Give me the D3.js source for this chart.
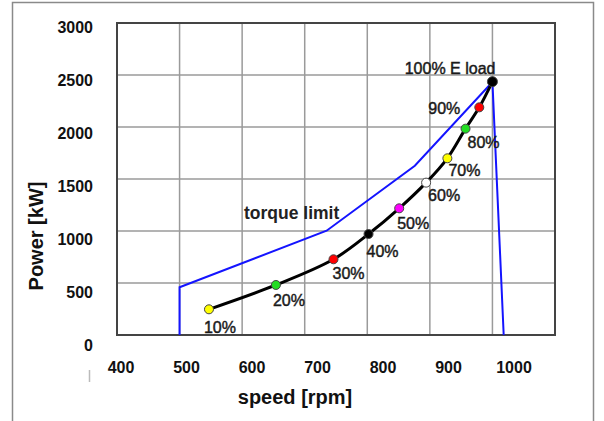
<!DOCTYPE html>
<html>
<head>
<meta charset="utf-8">
<script src="https://cdn.jsdelivr.net/npm/d3@7"></script>
<style>
  body { margin: 0; background: #fff; }
  svg { font-family: 'Liberation Sans', Arial, sans-serif; }
</style>
</head>
<body>
<div class="chart"></div>
<script>
// Data.
const loadLabels = ['10%', '20%', '30%', '40%', '50%', '60%', '70%', '80%', '90%', '100% E load'];
const loadSpeed = [547, 654, 746, 802, 851, 894, 928, 957, 979, 1000];
const loadPower = [247, 481, 728, 971, 1218, 1465, 1699, 1984, 2189, 2436];
const loadColors = ['#ffff00', '#22dd22', '#ff0000', '#000000', '#ff00ff',
                    '#ffffff', '#ffff00', '#22dd22', '#ff0000', '#000000'];

const limitSpeed = [500, 500, 735, 876, 1000, 1018];
const limitPower = [0, 459, 1003, 1628, 2433, 0];

const xTickLabels = [400, 500, 600, 700, 800, 900, 1000];
const yTickLabels = [0, 500, 1000, 1500, 2000, 2500, 3000];

// Label placement next to each load point (dx, dy, anchor).
const labelPlace = [
  [-5, 18, 'start'], [-3, 15, 'start'], [-1, 14, 'start'], [-2, 17, 'start'],
  [-2, 15, 'start'], [2, 13, 'start'], [1, 12, 'start'], [2, 14, 'start'],
  [-19, 1, 'end'], [3, -13, 'end']
];

// Layout.
const W = 604, H = 421;
const plot = { left: 117, right: 555, top: 23, bottom: 335 };

const svg = d3.select('.chart').append('svg')
  .attr('width', W).attr('height', H);

// Image frame.
svg.append('path')
  .attr('d', `M12.5,${H} V2.5 H593.5 V${H}`)
  .attr('fill', 'none')
  .attr('stroke', '#8a8a8a')
  .attr('stroke-width', 1.5);

// Scales.
const x = d3.scaleLinear().domain([400, 1100]).range([plot.left, plot.right]);
const y = d3.scaleLinear().domain([0, 3000]).range([plot.bottom, plot.top]);
// Tick labels in the picture sit slightly off the grid.
const xLab = d3.scaleLinear().domain([400, 1000]).range([121, 514]);
const yLab = d3.scaleLinear().domain([0, 3000]).range([345, 27]);

// Grid.
const grid = svg.append('g').attr('class', 'grid');
grid.selectAll('.vx')
  .data(d3.range(500, 1100, 100))
  .join('line')
  .attr('x1', d => x(d)).attr('x2', d => x(d))
  .attr('y1', plot.top).attr('y2', plot.bottom)
  .attr('stroke', '#9a9a9a').attr('stroke-width', 1.5);
grid.selectAll('.hy')
  .data(d3.range(500, 3000, 500))
  .join('line')
  .attr('y1', d => y(d)).attr('y2', d => y(d))
  .attr('x1', plot.left).attr('x2', plot.right)
  .attr('stroke', '#9a9a9a').attr('stroke-width', 1.5);

svg.append('rect')
  .attr('x', plot.left).attr('y', plot.top)
  .attr('width', plot.right - plot.left)
  .attr('height', plot.bottom - plot.top)
  .attr('fill', 'none')
  .attr('stroke', '#444')
  .attr('stroke-width', 2);

// Tick labels.
svg.append('g')
  .selectAll('text')
  .data(xTickLabels)
  .join('text')
  .attr('x', d => xLab(d))
  .attr('y', 367)
  .attr('dy', '0.35em')
  .attr('text-anchor', 'middle')
  .style('font-size', '16px')
  .style('font-weight', 'bold')
  .style('fill', '#111')
  .text(d => d);

svg.append('g')
  .selectAll('text')
  .data(yTickLabels)
  .join('text')
  .attr('x', 93)
  .attr('y', d => yLab(d))
  .attr('dy', '0.35em')
  .attr('text-anchor', 'end')
  .style('font-size', '16px')
  .style('font-weight', 'bold')
  .style('fill', '#111')
  .text(d => d);

// small stray mark left of the x labels
svg.append('line')
  .attr('x1', 89.5).attr('x2', 89.5).attr('y1', 370).attr('y2', 382)
  .attr('stroke', '#bbb').attr('stroke-width', 1.5);

// Axis titles.
svg.append('text')
  .attr('x', 295).attr('y', 397).attr('dy', '0.35em')
  .attr('text-anchor', 'middle')
  .style('font-size', '20px').style('font-weight', 'bold').style('fill', '#111')
  .text('speed [rpm]');

svg.append('text')
  .attr('transform', 'translate(36,236) rotate(-90)')
  .attr('dy', '0.35em')
  .attr('text-anchor', 'middle')
  .style('font-size', '20px').style('font-weight', 'bold').style('fill', '#111')
  .text('Power [kW]');

// Torque limit.
const limitData = limitSpeed.map((s, i) => [s, limitPower[i]]);
svg.append('path')
  .datum(limitData)
  .attr('d', d3.line().x(d => x(d[0])).y(d => y(d[1])))
  .attr('fill', 'none')
  .attr('stroke', '#1414ff')
  .attr('stroke-width', 2);

svg.append('text')
  .attr('x', 244).attr('y', 213).attr('dy', '0.35em')
  .style('font-size', '17.5px').style('font-weight', 'bold').style('fill', '#222')
  .text('torque limit');

// Load curve.
const loadData = loadSpeed.map((s, i) => ({
  speed: s, power: loadPower[i], label: loadLabels[i], color: loadColors[i], place: labelPlace[i]
}));

svg.append('path')
  .datum(loadData)
  .attr('d', d3.line().curve(d3.curveCatmullRom).x(d => x(d.speed)).y(d => y(d.power)))
  .attr('fill', 'none')
  .attr('stroke', '#000')
  .attr('stroke-width', 3);

svg.append('g')
  .selectAll('circle')
  .data(loadData)
  .join('circle')
  .attr('cx', d => x(d.speed))
  .attr('cy', d => y(d.power))
  .attr('r', (d, i) => i === loadData.length - 1 ? 5 : 4.5)
  .attr('fill', d => d.color)
  .attr('stroke', '#444')
  .attr('stroke-width', 1);

svg.append('g')
  .selectAll('text')
  .data(loadData)
  .join('text')
  .attr('x', d => x(d.speed) + d.place[0])
  .attr('y', d => y(d.power) + d.place[1])
  .attr('dy', '0.35em')
  .attr('text-anchor', d => d.place[2])
  .style('font-size', '16px')
  .style('fill', '#1a1a1a')
  .style('stroke', '#1a1a1a')
  .style('stroke-width', 0.45)
  .text(d => d.label);
</script>
</body>
</html>
